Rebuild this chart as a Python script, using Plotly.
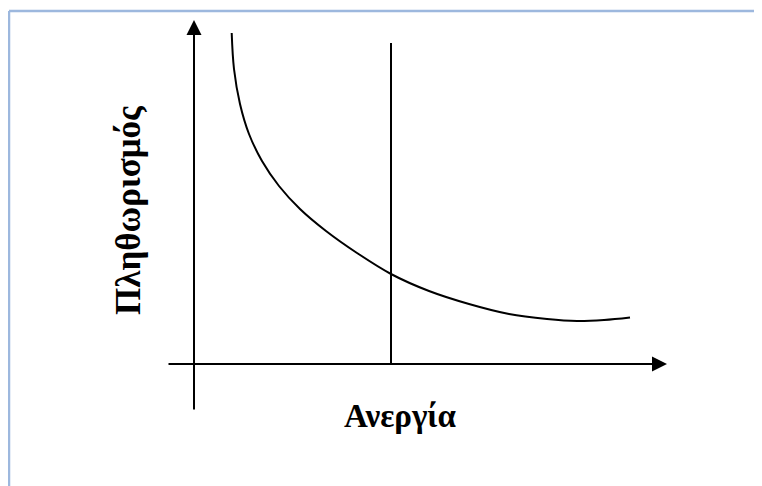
import plotly.graph_objects as go

# Phillips curve (data units: arbitrary, origin at axes crossing)
curve_x = [3.77, 4.0, 4.6, 5.5, 6.8, 8.5, 10.6, 13.2, 16.3, 19.7, 23.5, 27.5, 31.5, 35.3, 38.3, 41.0, 43.6]
curve_y = [33.1, 29.5, 26.0, 23.0, 20.3, 17.8, 15.5, 13.3, 11.1, 9.0, 7.3, 6.0, 5.0, 4.5, 4.3, 4.4, 4.65]

# vertical (long-run) line
vline_x = [19.7, 19.7]
vline_y = [0.0, 32.1]

# axes extents
xaxis_start, xaxis_end = -2.7, 47.3
yaxis_start, yaxis_end = -4.7, 34.4

x_label = "Ανεργία"
y_label = "Πληθωρισμός"

fig = go.Figure()

fig.add_trace(go.Scatter(x=curve_x, y=curve_y, mode="lines",
                         line=dict(color="black", width=2, shape="spline", smoothing=1.0),
                         hoverinfo="skip", showlegend=False))
fig.add_trace(go.Scatter(x=vline_x, y=vline_y, mode="lines",
                         line=dict(color="black", width=2),
                         hoverinfo="skip", showlegend=False))

# axis arrows
fig.add_annotation(x=xaxis_end, y=0, ax=xaxis_start, ay=0, xref="x", yref="y",
                   axref="x", ayref="y", text="", showarrow=True,
                   arrowhead=2, arrowsize=1.5, arrowwidth=2, arrowcolor="black")
fig.add_annotation(x=0, y=yaxis_end, ax=0, ay=yaxis_start, xref="x", yref="y",
                   axref="x", ayref="y", text="", showarrow=True,
                   arrowhead=2, arrowsize=1.5, arrowwidth=2, arrowcolor="black")

fig.add_annotation(x=20.6, y=-5.2, xref="x", yref="y", text="<b>" + x_label + "</b>",
                   showarrow=False,
                   font=dict(family="Liberation Serif", size=33, color="black"))
fig.add_annotation(x=-6.6, y=15.4, xref="x", yref="y", text="<b>" + y_label + "</b>",
                   showarrow=False, textangle=-90,
                   font=dict(family="Liberation Serif", size=35, color="black"))

# frame border (top and left visible)
W, H = 754, 478
fig.add_shape(type="line", xref="paper", yref="paper", x0=1/W, x1=1, y0=1-3/H, y1=1-3/H,
              line=dict(color="#9DB8DE", width=2.5))
fig.add_shape(type="line", xref="paper", yref="paper", x0=1/W, x1=1/W, y0=0, y1=1-3/H,
              line=dict(color="#9DB8DE", width=2.5))

fig.update_layout(
    width=W, height=H,
    margin=dict(l=0, r=0, t=0, b=0),
    paper_bgcolor="white", plot_bgcolor="white",
    xaxis=dict(range=[-18.6, 56.8], visible=False, fixedrange=True),
    yaxis=dict(range=[-12.2, 35.6], visible=False, fixedrange=True),
)

fig.write_html("out.html")
